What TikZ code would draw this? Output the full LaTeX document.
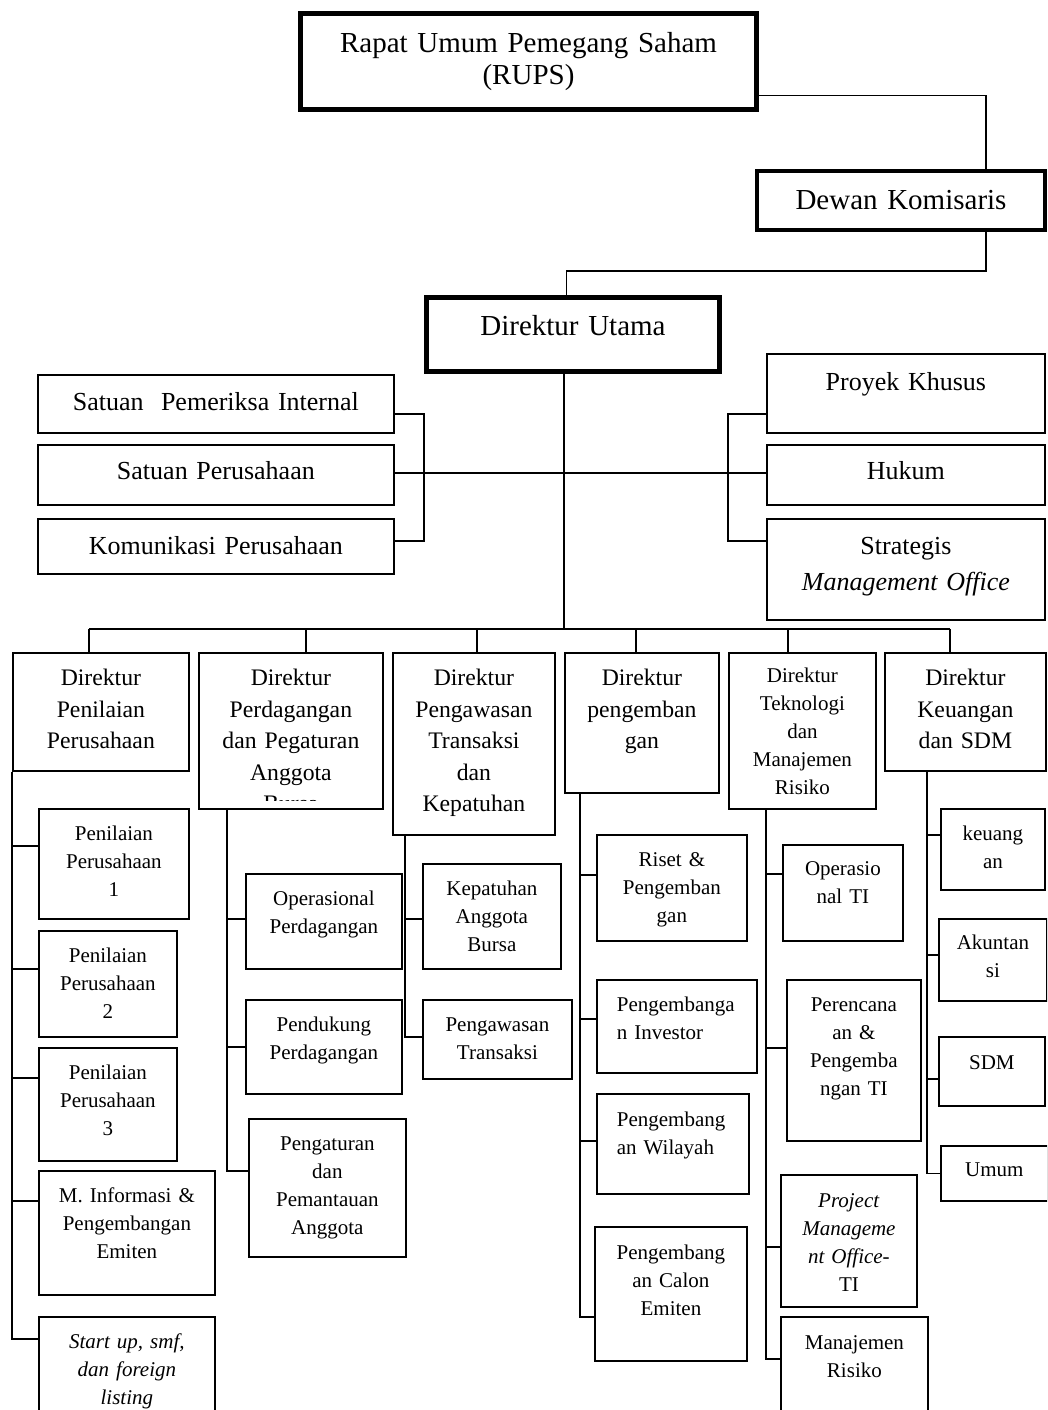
\documentclass[tikz,border=0pt]{standalone}
\usepackage{fontspec}
\setmainfont{Liberation Serif}
\hyphenpenalty=10000
\exhyphenpenalty=10000

\tikzset{
    cellsize/.code n args={3}{%
        \pgfmathsetmacro\celldepth{#2-#3}%
        \edef\cellkeys{\noexpand\pgfkeysalso{/tikz/text width=#1pt,/tikz/text height=#3pt,/tikz/text depth=\celldepth pt}}%
        \cellkeys},
    cell/.style={draw, line width=1.8pt, inner sep=0pt, align=center, anchor=north west},
    link/.style={line width=1.8pt},
    topfont/.style={font=\fontsize{29}{32}\selectfont},
    stafffont/.style={font=\fontsize{26}{36}\selectfont},
    dirfont/.style={font=\fontsize{23.7}{31.5}\selectfont},
    subfont/.style={font=\fontsize{21}{28}\selectfont}
}

\begin{document}
\begin{tikzpicture}[x=1pt, y=-1pt]
            \useasboundingbox (0,0) rectangle (1047,1410);
            \clip (0,0) rectangle (1047,1410);

            \node[cell, line width=5pt, topfont, cellsize={456}{96}{39}] (rups) at (298,11) {Rapat Umum Pemegang Saham\\(RUPS)};
            \node[cell, line width=4pt, topfont, cellsize={288}{59}{38}] (dewan) at (755,169) {Dewan Komisaris};
            \node[cell, line width=5pt, topfont, cellsize={293}{74}{38}] (du) at (424,295) {Direktur Utama};

            \node[cell, stafffont, cellsize={356}{58}{36}] (spi) at (37,374) {Satuan\ \ Pemeriksa Internal};
            \node[cell, stafffont, cellsize={356}{60}{35}] (sp) at (37,444) {Satuan Perusahaan};
            \node[cell, stafffont, cellsize={356}{55}{36}] (kp) at (37,518) {Komunikasi Perusahaan};
            \node[cell, stafffont, cellsize={278}{79}{37}] (pk) at (766,353) {Proyek Khusus};
            \node[cell, stafffont, cellsize={278}{60}{35}] (hk) at (766,444) {Hukum};
            \node[cell, stafffont, cellsize={278}{101}{36}] (sm) at (766,518) {Strategis\\\textit{Management Office}};

            \node[cell, dirfont, cellsize={176}{118}{33}] (d1) at (12,652) {Direktur\\Penilaian\\Perusahaan};
            \node[cell, dirfont, cellsize={184}{156}{33}] (d2) at (198,652) {Direktur\\Perdagangan\\dan Pegaturan\\Anggota};
            \node[cell, dirfont, cellsize={162}{182}{33}] (d3) at (392,652) {Direktur\\Pengawasan\\Transaksi\\dan\\Kepatuhan};
            \node[cell, dirfont, cellsize={154}{140}{33}] (d4) at (564,652) {Direktur\\pengemban\\gan};
            \node[cell, subfont, cellsize={147}{156}{30}] (d5) at (728,652) {Direktur\\Teknologi\\dan\\Manajemen\\Risiko};
            \node[cell, dirfont, cellsize={161}{118}{33}] (d6) at (884,652) {Direktur\\Keuangan\\dan SDM};

            \begin{scope}
                \clip (d2.north west) rectangle ([yshift=9pt]d2.south east);
                \node[dirfont, anchor=base, inner sep=0pt] (d2x) at ([yshift=-159pt]d2.north) {Bursa};
            \end{scope}

            \node[cell, subfont, cellsize={150}{110}{32}] (pp1) at (38,808) {Penilaian\\Perusahaan\\1};
            \node[cell, subfont, cellsize={138}{106}{32}] (pp2) at (38,930) {Penilaian\\Perusahaan\\2};
            \node[cell, subfont, cellsize={138}{113}{32}] (pp3) at (38,1047) {Penilaian\\Perusahaan\\3};
            \node[cell, subfont, cellsize={176}{124}{32}] (mi) at (38,1170) {M. Informasi \&\\Pengembangan\\Emiten};
            \node[cell, subfont, cellsize={176}{120}{32}] (su) at (38,1316) {\itshape Start up, smf,\\dan foreign\\listing};

            \node[cell, subfont, cellsize={156}{95}{32}] (op) at (245,873) {Operasional\\Perdagangan};
            \node[cell, subfont, cellsize={156}{94}{32}] (pd) at (245,999) {Pendukung\\Perdagangan};
            \node[cell, subfont, cellsize={157}{138}{32}] (pa) at (248,1118) {Pengaturan\\dan\\Pemantauan\\Anggota};

            \node[cell, subfont, cellsize={138}{105}{32}] (ka) at (422,863) {Kepatuhan\\Anggota\\Bursa};
            \node[cell, subfont, cellsize={149}{79}{32}] (pt) at (422,999) {Pengawasan\\Transaksi};

            \node[cell, subfont, cellsize={150}{106}{32}] (rp) at (596,834) {Riset \&\\Pengemban\\gan};
            \node[cell, subfont, align=left, inner xsep=20pt, cellsize={120}{93}{32}] (pi) at (596,979) {Pengembanga\\n Investor};
            \node[cell, subfont, align=left, inner xsep=20pt, cellsize={112}{100}{33}] (pw) at (596,1093) {Pengembang\\an Wilayah};
            \node[cell, subfont, cellsize={152}{134}{33}] (pc) at (594,1226) {Pengembang\\an Calon\\Emiten};

            \node[cell, subfont, cellsize={120}{96}{31}] (ot) at (782,844) {Operasio\\nal TI};
            \node[cell, subfont, cellsize={134}{161}{32}] (pe) at (786,979) {Perencana\\an \&\\Pengemba\\ngan TI};
            \node[cell, subfont, cellsize={136}{132}{33}] (pm) at (780,1174) {\textit{Project}\\\textit{Manageme}\\\textit{nt Office-}\\TI};
            \node[cell, subfont, cellsize={147}{120}{33}] (mr) at (780,1316) {Manajemen\\Risiko};

            \node[cell, subfont, cellsize={104}{81}{32}] (ke) at (940,808) {keuang\\an};
            \node[cell, subfont, cellsize={108}{82}{31}] (ak) at (938,918) {Akuntan\\si};
            \node[cell, subfont, cellsize={106}{69}{33}] (sd) at (938,1036) {SDM};
            \node[cell, subfont, cellsize={107}{55}{31}] (um) at (940,1145) {Umum};

            \draw[link, line width=1.4pt] ([yshift=-34pt]rups.east) -| ([xshift=85pt]dewan.north);
            \draw[link, line width=1.4pt] ([xshift=85pt]dewan.south) -- ++(0,39) -| ([xshift=-6.5pt]du.north);

            \coordinate (bus) at (564,629);
            \draw[link] (du.south -| bus) -- (bus);
            \draw[link] ([yshift=-10pt]spi.east) -- ++(29,0) |- ([yshift=5.5pt]kp.east);
            \draw[link] ([yshift=2pt]sp.east) -- ([yshift=2pt]hk.west);
            \draw[link] ([yshift=-20.5pt]pk.west) -- ++(-38,0) |- ([yshift=28.5pt]sm.west);

            \draw[link] ([xshift=-12pt]d1.north |- bus) -- ([xshift=-15.5pt]d6.north |- bus);
            \foreach \n/\s in {d1/-12, d2/15, d3/3, d4/-6, d5/-14.5, d6/-15.5} {
                    \draw[link] ([xshift=\s pt]\n.north) -- ([xshift=\s pt]\n.north |- bus);
                }

            \foreach \d/\s/\subs in {d1/0/{pp1/18, pp2/15, pp3/26.5, mi/32, su/38},
                    d2/29/{op/2.5, pd/0, pa/17},
                    d3/13/{ka/-2.5, pt/2.5},
                    d4/16/{rp/13, pi/7.5, pw/3, pc/-23},
                    d5/38/{ot/19, pe/12.5, pm/-6, mr/18},
                    d6/43/{ke/14.5, ak/5, sd/-7.5, um/0}} {
                    \foreach \n/\o in \subs {
                            \draw[link] ([xshift=\s pt]\d.south west) |- ([yshift=\o pt]\n.west);
                        }
                }
        \end{tikzpicture}
\end{document}
